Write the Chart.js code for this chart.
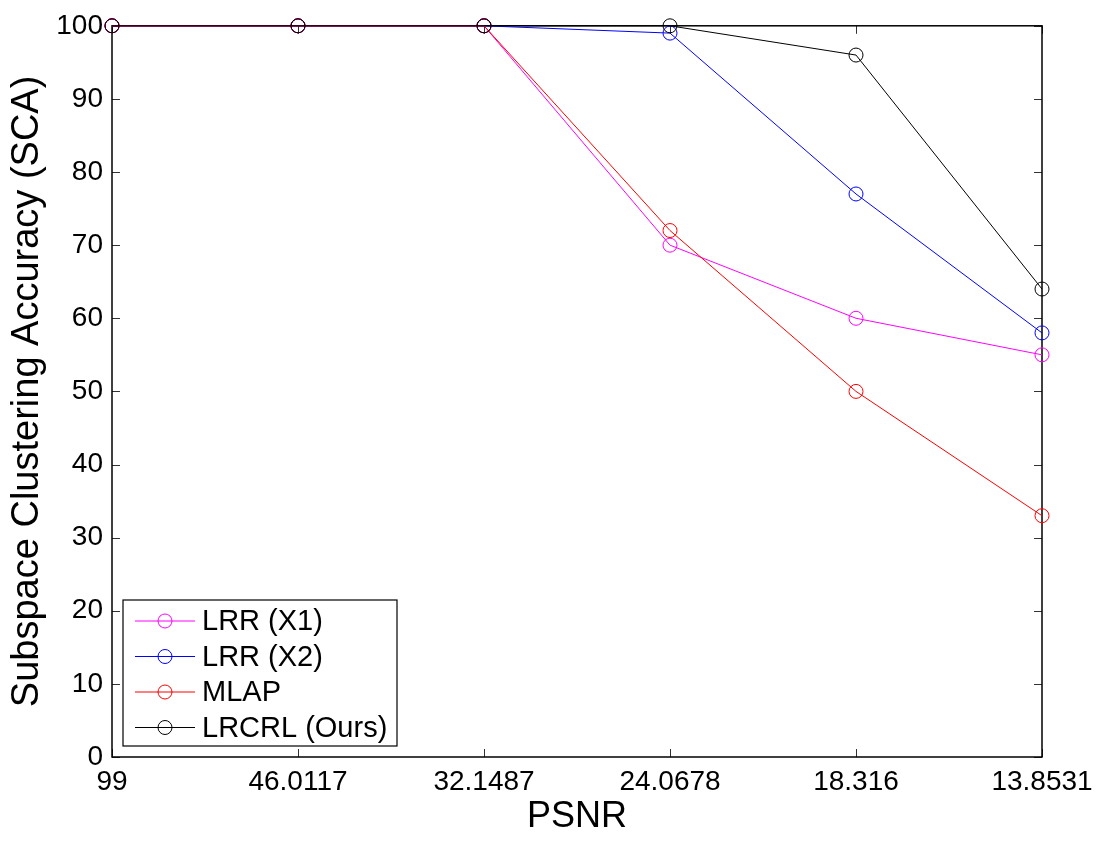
<!DOCTYPE html>
<html>
<head>
<meta charset="utf-8">
<script src="https://cdn.jsdelivr.net/npm/chart.js@4/dist/chart.umd.min.js"></script>
<style>
  body { margin: 0; background: #fff; }
  canvas { display: block; }
</style>
</head>
<body>
<canvas id="chart" width="1103" height="842"></canvas>
<script>
// PSNR levels (x categories)
const psnrLabels = ['99', '46.0117', '32.1487', '24.0678', '18.316', '13.8531'];

// subspace clustering accuracy per method
const lrrX1 = [100, 100, 100, 70, 60, 55];
const lrrX2 = [100, 100, 100, 99, 77, 58];
const mlap = [100, 100, 100, 72, 50, 33];
const lrcrl = [100, 100, 100, 100, 96, 64];

const yTicks = [0, 10, 20, 30, 40, 50, 60, 70, 80, 90, 100];

const FONT = "'Liberation Sans', Helvetica, Arial, sans-serif";

function series(label, data, color, order) {
    return {
        label: label,
        data: data,
        borderColor: color,
        backgroundColor: 'rgba(0,0,0,0)',
        borderWidth: 1,
        pointStyle: 'circle',
        pointRadius: 7,
        pointBorderWidth: 1,
        pointBorderColor: color,
        pointBackgroundColor: 'rgba(0,0,0,0)',
        tension: 0,
        clip: false,
        order: order
    };
}

// box around the axes + inward tick marks (matlab style)
const framePlugin = {
    id: 'frame',
    beforeDatasetsDraw(chart) {
        const { ctx, chartArea: a } = chart;
        const xs = chart.scales.x, ys = chart.scales.y;
        const len = 8;
        ctx.save();
        ctx.strokeStyle = '#333';
        ctx.lineWidth = 1;
        ctx.beginPath();
        yTicks.forEach(v => {
            const y = Math.round(ys.getPixelForValue(v)) + 0.5;
            ctx.moveTo(a.left, y); ctx.lineTo(a.left + len, y);
            ctx.moveTo(a.right, y); ctx.lineTo(a.right - len, y);
        });
        psnrLabels.forEach((l, i) => {
            const x = Math.round(xs.getPixelForValue(i)) + 0.5;
            ctx.moveTo(x, a.bottom); ctx.lineTo(x, a.bottom - len);
            ctx.moveTo(x, a.top); ctx.lineTo(x, a.top + len);
        });
        ctx.stroke();
        ctx.strokeStyle = '#000';
        ctx.lineWidth = 1.5;
        ctx.strokeRect(a.left, a.top, a.right - a.left, a.bottom - a.top);
        ctx.restore();
    }
};

// legend box in the lower left corner
const legendPlugin = {
    id: 'boxLegend',
    afterDraw(chart) {
        const { ctx } = chart;
        const bx = 123, by = 600, bw = 274, bh = 146;
        ctx.save();
        ctx.fillStyle = '#fff';
        ctx.fillRect(bx, by, bw, bh);
        ctx.strokeStyle = '#000';
        ctx.lineWidth = 1.2;
        ctx.strokeRect(bx, by, bw, bh);
        ctx.font = '29px ' + FONT;
        ctx.textBaseline = 'middle';
        chart.data.datasets.forEach((ds, i) => {
            const y = by + 21 + i * 35.5;
            ctx.strokeStyle = ds.borderColor;
            ctx.lineWidth = 1;
            ctx.beginPath();
            ctx.moveTo(bx + 12, y); ctx.lineTo(bx + 72, y);
            ctx.stroke();
            ctx.beginPath();
            ctx.arc(bx + 42, y, 7, 0, Math.PI * 2);
            ctx.stroke();
            ctx.fillStyle = '#000';
            ctx.fillText(ds.label, bx + 79, y + 1);
        });
        ctx.restore();
    }
};

const ctx = document.getElementById('chart').getContext('2d');
new Chart(ctx, {
    type: 'line',
    data: {
        labels: psnrLabels,
        datasets: [
            series('LRR (X1)', lrrX1, '#ff00ff', 3),
            series('LRR (X2)', lrrX2, '#0000ff', 2),
            series('MLAP', mlap, '#ff0000', 1),
            series('LRCRL (Ours)', lrcrl, '#000000', 0)
        ]
    },
    options: {
        responsive: false,
        animation: false,
        devicePixelRatio: 1,
        layout: { padding: { top: 21, right: 61, left: 0, bottom: 0 } },
        plugins: {
            legend: { display: false },
            tooltip: { enabled: false }
        },
        scales: {
            x: {
                type: 'category',
                offset: false,
                grid: { display: false, drawTicks: false },
                border: { display: false },
                ticks: {
                    color: '#000',
                    padding: 8,
                    maxRotation: 0,
                    autoSkip: false,
                    font: { family: FONT, size: 28 }
                },
                title: {
                    display: true,
                    text: 'PSNR',
                    color: '#000',
                    font: { family: FONT, size: 36 },
                    padding: { top: 0, bottom: 3 }
                },
                afterFit(scale) { scale.height = 85; }
            },
            y: {
                min: 0,
                max: 100,
                grid: { display: false, drawTicks: false },
                border: { display: false },
                ticks: {
                    stepSize: 10,
                    color: '#000',
                    padding: 9,
                    font: { family: FONT, size: 28 }
                },
                title: {
                    display: true,
                    text: 'Subspace Clustering Accuracy (SCA)',
                    color: '#000',
                    font: { family: FONT, size: 38 },
                    padding: { top: 5, bottom: 0 }
                },
                afterFit(scale) { scale.width = 112; }
            }
        }
    },
    plugins: [framePlugin, legendPlugin]
});
</script>
</body>
</html>
